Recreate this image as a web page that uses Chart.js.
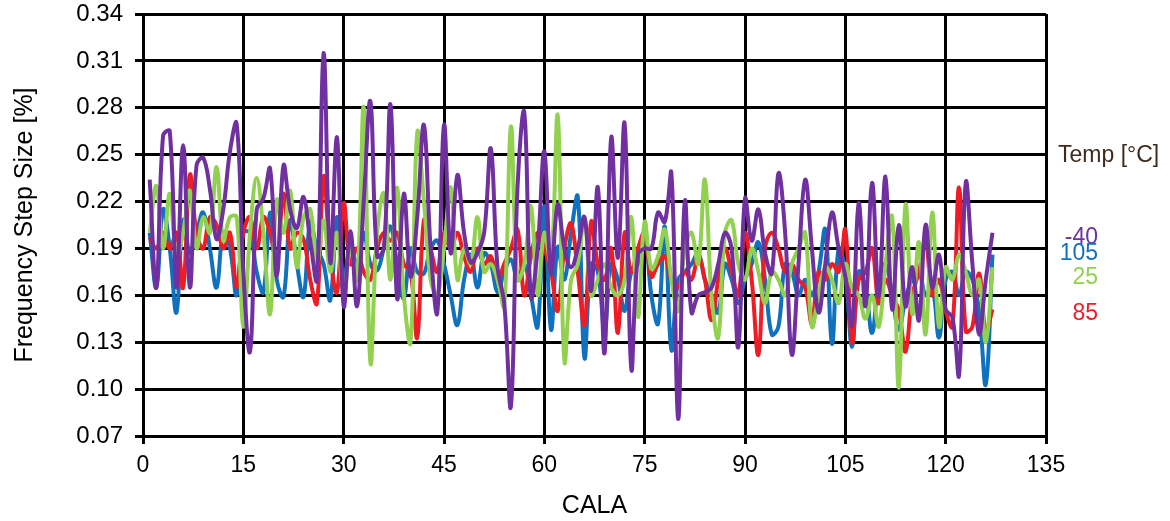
<!DOCTYPE html>
<html>
<head>
<meta charset="utf-8">
<script src="https://cdn.jsdelivr.net/npm/chart.js@4/dist/chart.umd.min.js"></script>
<style>
  html, body { margin: 0; padding: 0; background: #fff; }
  #wrap { width: 1170px; height: 521px; }
</style>
</head>
<body>
<div id="wrap"><canvas id="chart" width="1170" height="521"></canvas></div>
<script>
// CALA codes 1..127
const cala = Array.from({ length: 127 }, (_, i) => i + 1);

// Temp -40 C
const tempM40 = [
  0.234, 0.165, 0.262, 0.265, 0.165, 0.256, 0.165, 0.243, 0.248, 0.228,
  0.196, 0.215, 0.252, 0.270, 0.175, 0.124, 0.215, 0.222, 0.241, 0.172,
  0.243, 0.215, 0.203, 0.223, 0.195, 0.170, 0.315, 0.181, 0.261, 0.153,
  0.201, 0.153, 0.220, 0.284, 0.185, 0.190, 0.282, 0.158, 0.225, 0.172,
  0.210, 0.269, 0.190, 0.149, 0.269, 0.187, 0.237, 0.200, 0.181, 0.187,
  0.200, 0.254, 0.178, 0.155, 0.089, 0.230, 0.277, 0.159, 0.190, 0.252,
  0.174, 0.218, 0.190, 0.178, 0.190, 0.210, 0.163, 0.229, 0.123, 0.261,
  0.184, 0.270, 0.113, 0.186, 0.190, 0.190, 0.213, 0.207, 0.238, 0.081,
  0.220, 0.149, 0.160, 0.162, 0.165, 0.180, 0.200, 0.190, 0.127, 0.222,
  0.195, 0.215, 0.187, 0.174, 0.238, 0.200, 0.122, 0.180, 0.234, 0.190,
  0.149, 0.180, 0.213, 0.190, 0.172, 0.141, 0.219, 0.153, 0.232, 0.159,
  0.236, 0.151, 0.205, 0.153, 0.178, 0.144, 0.205, 0.165, 0.186, 0.151,
  0.146, 0.109, 0.232, 0.180, 0.135, 0.170, 0.200
];

// Temp 105 C
const temp105 = [
  0.200, 0.165, 0.215, 0.190, 0.149, 0.208, 0.187, 0.200, 0.213, 0.190,
  0.165, 0.200, 0.190, 0.160, 0.200, 0.200, 0.175, 0.162, 0.213, 0.170,
  0.159, 0.208, 0.180, 0.159, 0.207, 0.190, 0.180, 0.157, 0.210, 0.170,
  0.190, 0.180, 0.200, 0.180, 0.176, 0.190, 0.204, 0.180, 0.158, 0.190,
  0.175, 0.174, 0.190, 0.195, 0.180, 0.160, 0.141, 0.170, 0.186, 0.165,
  0.187, 0.180, 0.162, 0.175, 0.183, 0.170, 0.180, 0.160, 0.140, 0.217,
  0.138, 0.191, 0.170, 0.200, 0.223, 0.120, 0.180, 0.175, 0.138, 0.180,
  0.170, 0.150, 0.175, 0.180, 0.200, 0.160, 0.142, 0.204, 0.125, 0.170,
  0.175, 0.180, 0.187, 0.170, 0.160, 0.149, 0.180, 0.170, 0.155, 0.170,
  0.180, 0.194, 0.170, 0.135, 0.140, 0.180, 0.175, 0.160, 0.170, 0.160,
  0.175, 0.202, 0.129, 0.190, 0.175, 0.127, 0.175, 0.165, 0.136, 0.170,
  0.180, 0.160, 0.138, 0.158, 0.170, 0.175, 0.160, 0.165, 0.133, 0.170,
  0.175, 0.160, 0.175, 0.170, 0.150, 0.103, 0.186
];

// Temp 25 C
const temp25 = [
  0.200, 0.230, 0.190, 0.225, 0.185, 0.200, 0.227, 0.190, 0.210, 0.200,
  0.242, 0.195, 0.210, 0.210, 0.140, 0.200, 0.235, 0.200, 0.148, 0.221,
  0.200, 0.227, 0.178, 0.210, 0.215, 0.180, 0.208, 0.175, 0.200, 0.160,
  0.190, 0.170, 0.280, 0.117, 0.200, 0.225, 0.170, 0.229, 0.160, 0.130,
  0.264, 0.220, 0.170, 0.160, 0.190, 0.229, 0.170, 0.190, 0.180, 0.210,
  0.175, 0.180, 0.170, 0.153, 0.268, 0.170, 0.180, 0.217, 0.160, 0.200,
  0.180, 0.275, 0.118, 0.170, 0.180, 0.210, 0.160, 0.170, 0.180, 0.165,
  0.160, 0.170, 0.210, 0.146, 0.207, 0.177, 0.185, 0.202, 0.170, 0.150,
  0.190, 0.200, 0.180, 0.234, 0.160, 0.133, 0.200, 0.208, 0.180, 0.170,
  0.190, 0.175, 0.155, 0.175, 0.170, 0.160, 0.180, 0.190, 0.200, 0.140,
  0.160, 0.178, 0.170, 0.155, 0.180, 0.165, 0.160, 0.145, 0.160, 0.140,
  0.180, 0.210, 0.101, 0.218, 0.148, 0.194, 0.135, 0.213, 0.140, 0.178,
  0.170, 0.186, 0.175, 0.160, 0.170, 0.130, 0.178
];

// Temp 85 C
const temp85 = [
  0.197, 0.190, 0.200, 0.190, 0.200, 0.165, 0.237, 0.200, 0.190, 0.210,
  0.205, 0.190, 0.200, 0.165, 0.200, 0.210, 0.190, 0.210, 0.200, 0.180,
  0.225, 0.190, 0.200, 0.196, 0.170, 0.155, 0.236, 0.185, 0.162, 0.219,
  0.180, 0.190, 0.175, 0.170, 0.190, 0.200, 0.195, 0.200, 0.180, 0.175,
  0.133, 0.208, 0.190, 0.175, 0.200, 0.190, 0.200, 0.185, 0.175, 0.190,
  0.180, 0.185, 0.170, 0.180, 0.190, 0.202, 0.160, 0.185, 0.200, 0.190,
  0.175, 0.150, 0.190, 0.206, 0.175, 0.141, 0.207, 0.180, 0.170, 0.190,
  0.136, 0.200, 0.175, 0.190, 0.200, 0.172, 0.180, 0.185, 0.170, 0.165,
  0.175, 0.170, 0.185, 0.170, 0.144, 0.170, 0.190, 0.175, 0.160, 0.200,
  0.170, 0.122, 0.190, 0.200, 0.190, 0.175, 0.180, 0.170, 0.165, 0.142,
  0.175, 0.170, 0.180, 0.175, 0.202, 0.130, 0.170, 0.175, 0.190, 0.155,
  0.170, 0.160, 0.150, 0.124, 0.160, 0.175, 0.195, 0.160, 0.170, 0.150,
  0.140, 0.229, 0.137, 0.140, 0.174, 0.137, 0.151
];

const seriesNames = ['-40', '25', '85', '105'];
const seriesColors = ['#7030A0', '#92D050', '#EE1C25', '#1071BE'];
const seriesValues = [tempM40, temp25, temp85, temp105];
// vertical nudge of each end label so they do not overlap
const labelNudge = [5, 10, 4, -1];

const yTicks = [0.07, 0.10, 0.13, 0.16, 0.19, 0.22, 0.25, 0.28, 0.31, 0.34];
const xTicks = [0, 15, 30, 45, 60, 75, 90, 105, 120, 135];

const fontFamily = '"Liberation Sans", Arial, sans-serif';

const toPoints = (vals) => vals.map((v, i) => ({ x: cala[i], y: v }));

const datasets = seriesNames.map((name, i) => ({
  label: name,
  data: toPoints(seriesValues[i]),
  borderColor: seriesColors[i],
  backgroundColor: seriesColors[i],
  borderWidth: 4,
  pointRadius: 0,
  tension: 0.4,
  fill: false
}));

// end labels + "Temp [°C]" header on the right
const endLabels = {
  id: 'endLabels',
  afterDatasetsDraw(chart) {
    const ctx = chart.ctx;
    const yScale = chart.scales.y;
    ctx.save();
    ctx.font = '23px ' + fontFamily;
    ctx.textBaseline = 'middle';
    ctx.textAlign = 'left';
    ctx.fillStyle = '#3F2A1E';
    ctx.fillText('Temp [°C]', chart.chartArea.right + 12, yScale.getPixelForValue(0.25) + 1);
    ctx.textAlign = 'right';
    chart.data.datasets.forEach((ds, i) => {
      const last = ds.data[ds.data.length - 1];
      ctx.fillStyle = seriesColors[i];
      ctx.fillText(ds.label, chart.chartArea.right + 52, yScale.getPixelForValue(last.y) + labelNudge[i]);
    });
    ctx.restore();
  }
};

const chart = new Chart(document.getElementById('chart'), {
  type: 'line',
  data: { datasets: datasets },
  options: {
    responsive: false,
    animation: false,
    layout: { padding: { left: 0, right: 124, top: 14, bottom: 0 } },
    plugins: {
      legend: { display: false },
      tooltip: { enabled: false }
    },
    scales: {
      x: {
        type: 'linear',
        min: 0,
        max: 135,
        afterBuildTicks: (scale) => { scale.ticks = xTicks.map(v => ({ value: v })); },
        afterFit: (scale) => {
          scale.height = 85;
          scale.paddingLeft = 0;
          scale.paddingRight = 0;
        },
        ticks: {
          color: '#000',
          font: { family: fontFamily, size: 23 },
          padding: 8,
          maxRotation: 0,
          callback: (v) => String(v)
        },
        grid: { color: '#000', lineWidth: 3, tickLength: 8, tickColor: '#000', tickWidth: 3 },
        border: { color: '#000', width: 3 },
        title: {
          display: true,
          text: 'CALA',
          color: '#000',
          font: { family: fontFamily, size: 25 },
          padding: { top: 0, bottom: 0 }
        }
      },
      y: {
        type: 'linear',
        min: 0.07,
        max: 0.34,
        afterBuildTicks: (scale) => { scale.ticks = yTicks.map(v => ({ value: v })); },
        afterFit: (scale) => {
          scale.width = 143;
          scale.paddingTop = 0;
          scale.paddingBottom = 0;
        },
        ticks: {
          color: '#000',
          font: { family: fontFamily, size: 24 },
          padding: 12,
          callback: (v) => Number(v).toFixed(2)
        },
        grid: { color: '#000', lineWidth: 3, tickLength: 8, tickColor: '#000', tickWidth: 3 },
        border: { color: '#000', width: 3 },
        title: {
          display: true,
          text: 'Frequency Step Size [%]',
          color: '#000',
          font: { family: fontFamily, size: 25 },
          padding: { top: 10, bottom: 0 }
        }
      }
    }
  },
  plugins: [endLabels]
});
</script>
</body>
</html>
